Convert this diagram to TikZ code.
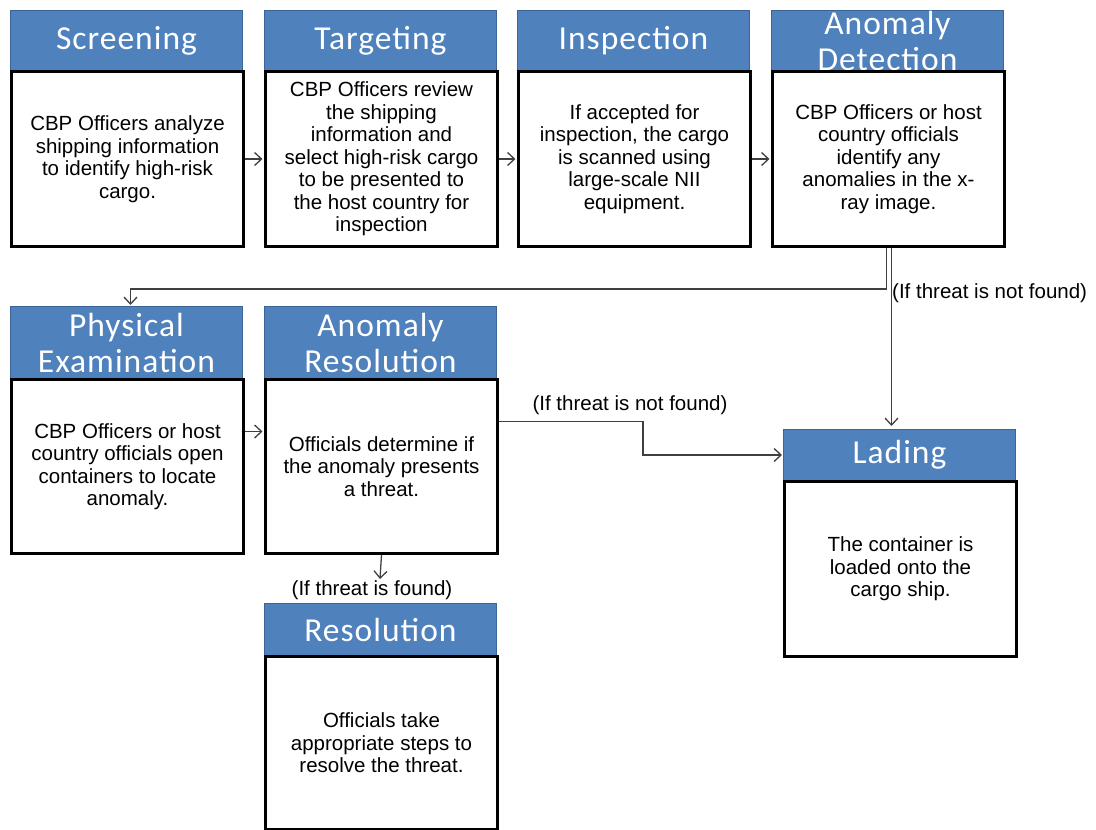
\documentclass[tikz,border=0pt]{standalone}
\usepackage{fontspec}
\setmainfont{Liberation Sans}
\newfontfamily\hdrfont[LetterSpace=3.0]{Carlito}
\usetikzlibrary{arrows.meta}
\definecolor{hdrblue}{HTML}{4F81BD}
\definecolor{hdredge}{HTML}{3A6496}
\tikzset{
 hdr/.style={draw=hdredge, line width=1pt, fill=hdrblue, text=white, font=\hdrfont\fontsize{33.5}{36}\selectfont, align=center, minimum width=232pt, inner sep=0pt, anchor=north west},
 body/.style={draw=black, line width=3pt, fill=white, font=\fontsize{20.5}{22.5}\selectfont, align=center, minimum width=232pt, inner sep=0pt, anchor=north west},
 conn/.style={draw=black!75, line width=1.3pt, -{Straight Barb[length=7pt,width=13pt]}},
 lbl/.style={font=\fontsize{20.5}{22.5}\selectfont, inner sep=0pt}
}
\begin{document}
\begin{tikzpicture}[x=1pt,y=-1pt]
\useasboundingbox (0,0) rectangle (1096,830);
% headers
\node[hdr, minimum height=60pt] (scrH) at (10,10) {Screening};
\node[hdr, minimum height=60pt] (tgtH) at (264,10) {Targeting};
\node[hdr, minimum height=60pt] (insH) at (517,10) {Inspection};
\node[hdr, minimum height=60pt] (adH) at (771,10) {Anomaly\\Detection};
\node[hdr, minimum height=72pt] (peH) at (10,306) {Physical\\Examination};
\node[hdr, minimum height=72pt] (arH) at (264,306) {Anomaly\\Resolution};
\node[hdr, minimum height=52pt] (resH) at (264,603) {Resolution};
\node[hdr, minimum height=51pt] (ladH) at (783,429) {Lading};
% bodies
\node[body, minimum height=175pt] (scrB) at (10,70) {CBP Officers analyze\\shipping information\\to identify high-risk\\cargo.};
\node[body, minimum height=175pt] (tgtB) at (264,70) {CBP Officers review\\the shipping\\information and\\select high-risk cargo\\to be presented to\\the host country for\\inspection};
\node[body, minimum height=175pt] (insB) at (517,70) {If accepted for\\inspection, the cargo\\is scanned using\\large-scale NII\\equipment.};
\node[body, minimum height=175pt] (adB) at (771,70) {CBP Officers or host\\country officials\\identify any\\anomalies in the x-\\ray image.};
\node[body, minimum height=174pt] (peB) at (10,378) {CBP Officers or host\\country officials open\\containers to locate\\anomaly.};
\node[body, minimum height=174pt] (arB) at (264,378) {Officials determine if\\the anomaly presents\\a threat.};
\node[body, minimum height=173pt] (resB) at (264,655) {Officials take\\appropriate steps to\\resolve the threat.};
\node[body, minimum height=175pt] (ladB) at (783,480) {The container is\\loaded onto the\\cargo ship.};
% connectors
\draw[conn, shorten >=1.5pt] (scrB.east) -- (tgtB.west);
\draw[conn, shorten >=1.5pt] (tgtB.east) -- (insB.west);
\draw[conn, shorten >=1.5pt] (insB.east) -- (adB.west);
\draw[conn, shorten >=1pt] ([xshift=-2pt]adB.south) -- ++(0,41) -| ([xshift=4pt]peH.north);
\draw[conn, shorten >=3pt] ([xshift=3pt]adB.south) -- ([xshift=3pt]adB.south |- ladH.north);
\node[lbl, anchor=west] (l1) at (892,293) {(If threat is not found)};
\draw[conn, shorten >=1.5pt] ([yshift=35pt]peB.east) -- ([yshift=35pt]arB.west);
\draw[conn, shorten >=1pt] ([yshift=45pt]arB.east) -- ++(144,0) |- (ladH.west);
\node[lbl] (l2) at (630,405) {(If threat is not found)};
\coordinate (fnd) at (380,579);
\draw[conn] (arB.south) -- (fnd);
\node[lbl] (l3) at (372,590) {(If threat is found)};
\end{tikzpicture}
\end{document}
